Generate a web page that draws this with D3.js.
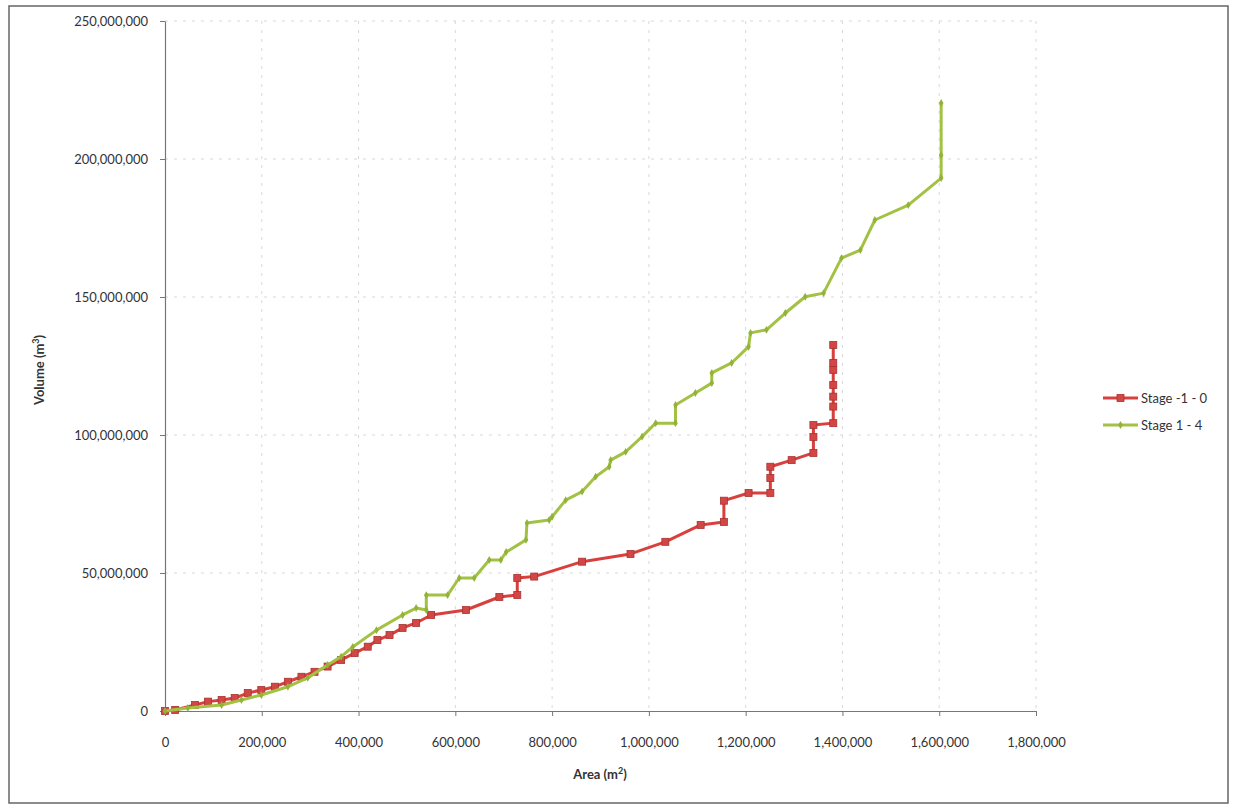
<!DOCTYPE html>
<html><head><meta charset="utf-8">
<script src="https://cdn.jsdelivr.net/npm/d3@7"></script>
<style>
html,body{margin:0;padding:0;background:#fff;}
svg{display:block;font-family:Lato,"Open Sans",sans-serif;}
</style></head>
<body>
<svg id="chart" width="1234" height="807"></svg>
<script>
// Stage -1 - 0 (red)
const redArea = [0,21000,62000,89000,117000,144000,171000,199000,227000,254000,282000,309000,336000,364000,392000,419000,439000,464000,491000,519000,550000,622000,691000,728000,728000,763000,862000,962000,1034000,1107000,1155000,1155000,1206000,1251000,1251000,1251000,1295000,1340000,1340000,1340000,1381000,1381000,1381000,1381000,1381000,1381000,1381000];
const redVolume = [0,400000,2200000,3400000,4000000,4700000,6500000,7600000,8800000,10600000,12400000,14200000,16100000,18500000,21000000,23300000,25700000,27500000,30100000,31900000,34800000,36600000,41300000,42000000,48200000,48700000,54100000,56900000,61300000,67400000,68500000,76200000,79000000,79000000,84400000,88500000,90900000,93500000,99300000,103600000,104300000,110300000,113900000,118100000,123600000,126100000,132600000];
// Stage 1 - 4 (green)
const greenArea = [0,47000,117000,158000,199000,254000,295000,336000,364000,388000,437000,491000,519000,540000,540000,584000,608000,639000,670000,694000,705000,746000,748000,794000,800000,828000,862000,890000,918000,921000,952000,986000,1014000,1055000,1055000,1096000,1130000,1130000,1171000,1206000,1210000,1243000,1282000,1323000,1361000,1398000,1437000,1467000,1536000,1604000,1604000,1604000];
const greenVolume = [0,1100000,2200000,4000000,5800000,8800000,12000000,16700000,19700000,23200000,29300000,34800000,37300000,36600000,42000000,42000000,48200000,48200000,54700000,54700000,57600000,62000000,68100000,69200000,70400000,76400000,79500000,84900000,88500000,90900000,93900000,99400000,104300000,104300000,110900000,115200000,118800000,122500000,126100000,132000000,137000000,138100000,144200000,150100000,151400000,164100000,167000000,177900000,183300000,193100000,201400000,220300000];
const xTicks = [0,200000,400000,600000,800000,1000000,1200000,1400000,1600000,1800000];
const yTicks = [0,50000000,100000000,150000000,200000000,250000000];
const seriesNames = ["Stage -1 - 0","Stage 1 - 4"];
const seriesColors = ["#d8403e","#a3c143"];

const svg = d3.select("#chart");
const fmt = d3.format(",");
const x = d3.scaleLinear().domain([0,1800000]).range([165,1036]);
const y = d3.scaleLinear().domain([0,250000000]).range([711,21]);

// outer border
svg.append("rect").attr("x",9).attr("y",6).attr("width",1219).attr("height",797)
  .attr("fill","none").attr("stroke","#666").attr("stroke-width",1.5);

// gridlines
svg.append("g").selectAll("line").data(yTicks.slice(1)).join("line")
  .attr("x1",165).attr("x2",1036).attr("y1",d=>y(d)).attr("y2",d=>y(d))
  .attr("stroke","#d8d8d8").attr("stroke-dasharray","3,6");
svg.append("g").selectAll("line").data(xTicks.slice(1)).join("line")
  .attr("y1",21).attr("y2",711).attr("x1",d=>x(d)).attr("x2",d=>x(d))
  .attr("stroke","#d8d8d8").attr("stroke-dasharray","3,6");

// axes
const yAxis = d3.axisLeft(y).tickValues(yTicks).tickFormat(fmt).tickSizeInner(5).tickSizeOuter(0).tickPadding(12);
const gy = svg.append("g").attr("transform","translate(165,0)").call(yAxis);
const xAxis = d3.axisBottom(x).tickValues(xTicks).tickFormat(fmt).tickSizeInner(5).tickSizeOuter(0).tickPadding(22);
const gx = svg.append("g").attr("transform","translate(0,711)").call(xAxis);
[gx,gy].forEach(g=>{
  g.select(".domain").attr("stroke","#777").attr("stroke-width",1.2);
  g.selectAll(".tick line").attr("stroke","#777");
  g.selectAll("text").attr("fill","#333").style("font-size","13px").style("font-family","Lato,'Open Sans',sans-serif");
});

// axis titles
const xt = svg.append("text").attr("x",600).attr("y",779).attr("text-anchor","middle")
  .style("font-size","13px").style("font-weight","bold").attr("fill","#333");
xt.append("tspan").text("Area (m");
xt.append("tspan").text("2").attr("dy",-5).style("font-size","9px");
xt.append("tspan").text(")").attr("dy",5);
const yt = svg.append("text").attr("transform","translate(44,370) rotate(-90)").attr("text-anchor","middle")
  .style("font-size","13px").style("font-weight","bold").attr("fill","#333");
yt.append("tspan").text("Volume (m");
yt.append("tspan").text("3").attr("dy",-5).style("font-size","9px");
yt.append("tspan").text(")").attr("dy",5);

const line = d3.line().x(d=>x(d[0])).y(d=>y(d[1]));
const redData = redArea.map((a,i)=>[a,redVolume[i]]);
const greenData = greenArea.map((a,i)=>[a,greenVolume[i]]);

// red series
svg.append("path").datum(redData).attr("d",line).attr("fill","none")
  .attr("stroke",seriesColors[0]).attr("stroke-width",3).attr("stroke-linejoin","round");
svg.append("g").selectAll("rect").data(redData).join("rect")
  .attr("x",d=>x(d[0])-3.5).attr("y",d=>y(d[1])-3.5).attr("width",7).attr("height",7)
  .attr("fill","#d24745").attr("stroke","#a83230").attr("stroke-width",0.8);

// green series
svg.append("path").datum(greenData).attr("d",line).attr("fill","none")
  .attr("stroke",seriesColors[1]).attr("stroke-width",3).attr("stroke-linejoin","round");
const diamond = d3.symbol().type(d3.symbolDiamond).size(18);
svg.append("g").selectAll("path").data(greenData).join("path")
  .attr("transform",d=>`translate(${x(d[0])},${y(d[1])})`).attr("d",diamond)
  .attr("fill","#93b23a");

// legend
const lg = svg.append("g");
seriesNames.forEach((n,i)=>{
  const yy = 398 + i*27;
  lg.append("line").attr("x1",1103).attr("x2",1138).attr("y1",yy).attr("y2",yy)
    .attr("stroke",seriesColors[i]).attr("stroke-width",3);
  if(i===0){
    lg.append("rect").attr("x",1117).attr("y",yy-3.5).attr("width",7).attr("height",7)
      .attr("fill","#d24745").attr("stroke","#a83230").attr("stroke-width",0.8);
  } else {
    lg.append("path").attr("transform",`translate(1120.5,${yy})`).attr("d",diamond).attr("fill","#93b23a");
  }
  lg.append("text").attr("x",1141).attr("y",yy+4.5).text(n)
    .style("font-size","13px").attr("fill","#333");
});
</script>
</body></html>
